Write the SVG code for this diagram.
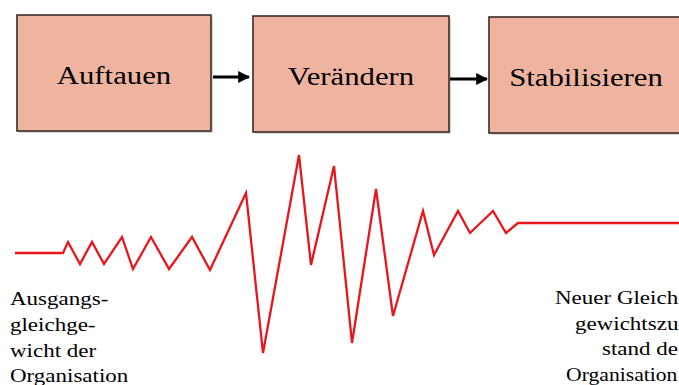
<svg xmlns="http://www.w3.org/2000/svg" width="679" height="385" viewBox="0 0 679 385">
  <style>
    .box { fill: #efb4a0; stroke: #3a2c2a; stroke-width: 1.6; }
    .shadow { fill: #d9d6d6; }
    .lbl { font-family: "Liberation Serif", "Times New Roman", serif; font-size: 25px; fill: #000; text-anchor: middle; }
    .note { font-family: "Liberation Serif", "Times New Roman", serif; font-size: 19px; fill: #000; }
    .arrow { stroke: #000; stroke-width: 3; fill: none; }
    .wave { stroke: #e8161c; stroke-width: 2.3; fill: none; stroke-linejoin: miter; }
  </style>
  <defs>
    <marker id="ah" viewBox="0 0 10 10" refX="9" refY="5" markerWidth="4" markerHeight="4.4" orient="auto" markerUnits="strokeWidth">
      <path d="M0,0 L10,5 L0,10 Z" fill="#000"/>
    </marker>
  </defs>
  <rect width="679" height="385" fill="#fff"/>

  <g id="auftauen">
    <rect class="shadow" x="19" y="17" width="194" height="116"/>
    <rect class="box" x="17" y="15" width="194" height="116"/>
    <text class="lbl" transform="translate(114,84) scale(1.23,1)">Auftauen</text>
  </g>
  <g id="veraendern">
    <rect class="shadow" x="255" y="18" width="196" height="116"/>
    <rect class="box" x="253" y="16" width="196" height="116"/>
    <text class="lbl" transform="translate(351,85) scale(1.23,1)">Verändern</text>
  </g>
  <g id="stabilisieren">
    <rect class="shadow" x="491" y="19" width="210" height="116"/>
    <rect class="box" x="489" y="17" width="210" height="116"/>
    <text class="lbl" transform="translate(586,86) scale(1.23,1)">Stabilisieren</text>
  </g>

  <g id="connectors">
    <line class="arrow" x1="213" y1="77" x2="249" y2="77" marker-end="url(#ah)"/>
    <line class="arrow" x1="450" y1="79" x2="487" y2="79" marker-end="url(#ah)"/>
  </g>

  <g id="curve">
    <polyline class="wave" points="15,253 63,253 68,242 80,264 92,242 104,264 122,237 133,269 151,237 169,269 192,237 210,270 246,193 263,353 299,155 311,265 334,166 352,343 376,189 393,316 423,211 434,255 458,211 470,233 493,211 506,233 518,223 679,223"/>
  </g>

  <g id="start-label">
    <text class="note" transform="translate(10,305) scale(1.21,1)">Ausgangs-</text>
    <text class="note" transform="translate(10,331) scale(1.21,1)">gleichge-</text>
    <text class="note" transform="translate(10,356.5) scale(1.21,1)">wicht der</text>
    <text class="note" transform="translate(10,382) scale(1.21,1)">Organisation</text>
  </g>
  <g id="end-label">
    <text class="note" transform="translate(555,304) scale(1.21,1)">Neuer Gleich</text>
    <text class="note" transform="translate(575,329.5) scale(1.21,1)">gewichtszu</text>
    <text class="note" transform="translate(602,355) scale(1.21,1)">stand de</text>
    <text class="note" transform="translate(566,380.5) scale(1.14,1)">Organisation</text>
  </g>
</svg>
